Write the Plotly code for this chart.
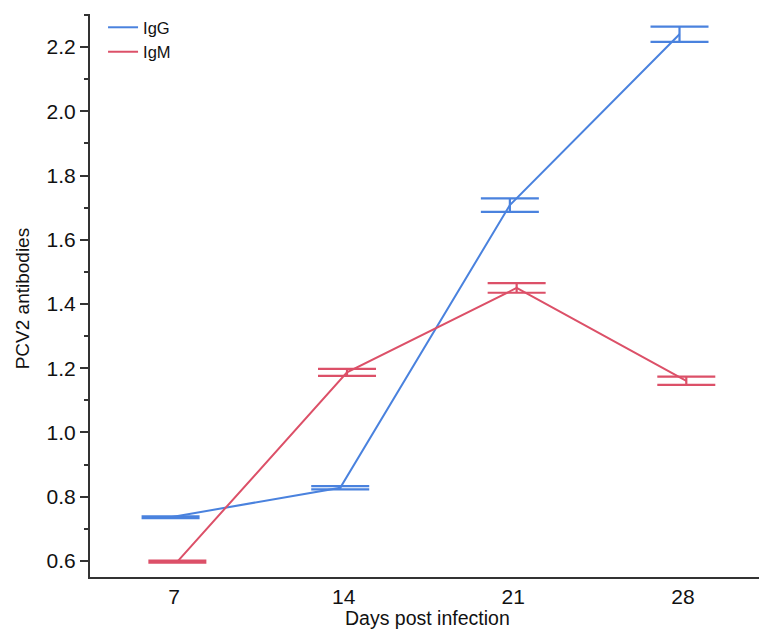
import plotly.graph_objects as go

days = [7, 14, 21, 28]
igg_mean = [0.736, 0.828, 1.708, 2.240]
igg_err = [0.003, 0.005, 0.021, 0.024]
igm_mean = [0.598, 1.187, 1.450, 1.161]
igm_err = [0.003, 0.011, 0.015, 0.013]

blue = "#4A82DE"
red = "#DC5068"
dodge = 0.14  # horizontal dodge between series, in days

fig = go.Figure()
fig.add_trace(go.Scatter(
    x=[d - dodge for d in days], y=igg_mean, name="IgG", mode="lines",
    line=dict(color=blue, width=2),
    error_y=dict(type="data", array=igg_err, visible=True, color=blue, thickness=2.2, width=29),
))
fig.add_trace(go.Scatter(
    x=[d + dodge for d in days], y=igm_mean, name="IgM", mode="lines",
    line=dict(color=red, width=2),
    error_y=dict(type="data", array=igm_err, visible=True, color=red, thickness=2.2, width=29),
))

font_family = "Liberation Sans, Arial, Helvetica, sans-serif"
fig.update_layout(
    width=759, height=630,
    margin=dict(l=90, r=0, t=14, b=53, autoexpand=False),
    plot_bgcolor="white", paper_bgcolor="white",
    font=dict(family=font_family, color="#111111"),
    showlegend=True,
    legend=dict(x=0.0195, y=1.007, xanchor="left", yanchor="top",
                font=dict(size=16.5, color="#111111"), bgcolor="rgba(0,0,0,0)",
                tracegroupgap=0),
    annotations=[
        dict(text="Days post infection", xref="paper", yref="paper", x=0.504, y=-0.0728,
             xanchor="center", yanchor="middle", showarrow=False, font=dict(size=19.5)),
        dict(text="PCV2 antibodies", xref="paper", yref="paper", x=-0.1016, y=0.495,
             xanchor="center", yanchor="middle", textangle=-90, showarrow=False, font=dict(size=19)),
    ],
)
fig.update_xaxes(
    range=[3.535, 31.14], tickvals=days, ticktext=[str(d) for d in days], automargin=False,
    showline=True, linecolor="#333333", linewidth=2, ticks="", showgrid=False, zeroline=False,
    tickfont=dict(size=21),
)
fig.update_yaxes(
    range=[0.55, 2.303], tickvals=[0.6, 0.8, 1.0, 1.2, 1.4, 1.6, 1.8, 2.0, 2.2], automargin=False,
    ticktext=["0.6", "0.8", "1.0", "1.2", "1.4", "1.6", "1.8", "2.0", "2.2"],
    showline=True, linecolor="#333333", linewidth=2, ticks="outside", ticklen=8, tickwidth=2,
    tickcolor="#333333", showgrid=False, zeroline=False,
    minor=dict(dtick=0.1, tick0=0.5, ticks="outside", ticklen=4, tickwidth=2, tickcolor="#333333", showgrid=False),
    tickfont=dict(size=21),
)

fig.write_html(
    "out.html",
    config={"displayModeBar": False},
    post_script="document.body.style.margin='0';document.body.style.overflow='hidden';",
)
